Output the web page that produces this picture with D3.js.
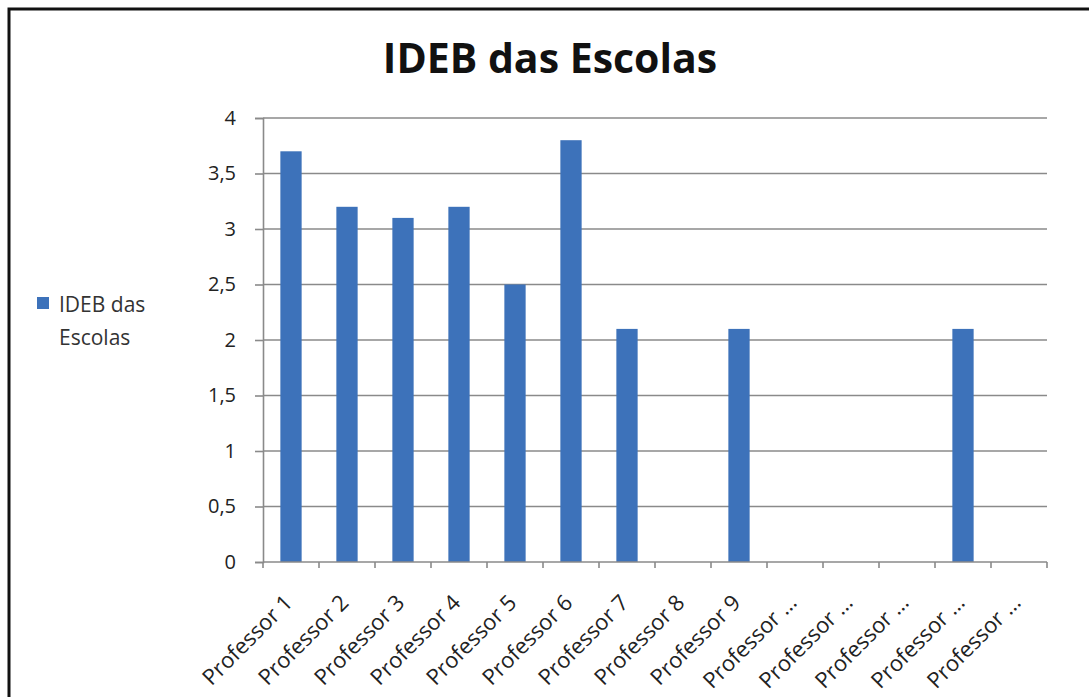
<!DOCTYPE html>
<html>
<head>
<meta charset="utf-8">
<script src="https://cdn.jsdelivr.net/npm/d3@7"></script>
<style>
  html, body { margin: 0; padding: 0; background: #fff; }
  svg { display: block; }
</style>
</head>
<body>
<svg id="chart" width="1089" height="697"></svg>
<script>
// Chart data
const categories = [
  "Professor 1", "Professor 2", "Professor 3", "Professor 4", "Professor 5",
  "Professor 6", "Professor 7", "Professor 8", "Professor 9", "Professor …",
  "Professor …", "Professor …", "Professor …", "Professor …"
];
const ideb = [3.7, 3.2, 3.1, 3.2, 2.5, 3.8, 2.1, 0, 2.1, 0, 0, 0, 2.1, 0];
const yTicks = [0, 0.5, 1, 1.5, 2, 2.5, 3, 3.5, 4];
const chartTitle = "IDEB das Escolas";
const seriesName = ["IDEB das", "Escolas"];

const W = 1089, H = 697;
const margin = { left: 263, right: 1047, top: 118, bottom: 562 };
const font = "'Open Sans', 'DejaVu Sans', sans-serif";
const barColor = "#3d72ba";
const gridColor = "#8a8a8a";

const svg = d3.select("#chart");

// Outer frame (only left and top edges fall inside the view)
svg.append("rect")
  .attr("x", 9).attr("y", 9)
  .attr("width", W + 20).attr("height", H + 20)
  .attr("fill", "#fff")
  .attr("stroke", "#111").attr("stroke-width", 3);

const x = d3.scaleBand()
  .domain(d3.range(categories.length))
  .range([margin.left, margin.right])
  .paddingInner(0.62).paddingOuter(0.31);

const y = d3.scaleLinear()
  .domain([0, 4])
  .range([margin.bottom, margin.top]);

// Horizontal gridlines
svg.append("g")
  .selectAll("line")
  .data(yTicks.filter(d => d > 0))
  .join("line")
  .attr("x1", margin.left).attr("x2", margin.right)
  .attr("y1", d => y(d)).attr("y2", d => y(d))
  .attr("stroke", gridColor).attr("stroke-width", 1.6);

// Y axis
const yAxis = d3.axisLeft(y)
  .tickValues(yTicks)
  .tickSize(8)
  .tickPadding(19)
  .tickFormat(d => d3.format("")(d).replace(".", ","));

const gy = svg.append("g")
  .attr("transform", `translate(${margin.left},0)`)
  .call(yAxis);
gy.select(".domain").attr("stroke", gridColor).attr("stroke-width", 1.6);
gy.selectAll(".tick line").attr("stroke", gridColor).attr("stroke-width", 1.6);
gy.selectAll(".tick text")
  .attr("font-family", font).attr("font-size", 20)
  .attr("fill", "#222");

// Bars
svg.append("g")
  .selectAll("rect")
  .data(ideb)
  .join("rect")
  .attr("x", (d, i) => x(i))
  .attr("y", d => y(d))
  .attr("width", x.bandwidth())
  .attr("height", d => y(0) - y(d))
  .attr("fill", barColor);

// X axis: line plus ticks at category boundaries
const step = x.step();
const gx = svg.append("g");
gx.append("line")
  .attr("x1", margin.left).attr("x2", margin.right)
  .attr("y1", y(0)).attr("y2", y(0))
  .attr("stroke", gridColor).attr("stroke-width", 1.6);
gx.selectAll("line.tk")
  .data(d3.range(categories.length + 1))
  .join("line")
  .attr("class", "tk")
  .attr("x1", i => margin.left + i * step)
  .attr("x2", i => margin.left + i * step)
  .attr("y1", y(0)).attr("y2", y(0) + 6)
  .attr("stroke", gridColor).attr("stroke-width", 1.6);

// Rotated category labels
gx.selectAll("text")
  .data(categories)
  .join("text")
  .attr("transform", (d, i) => `translate(${x(i) + x.bandwidth() / 2 + 3},${y(0) + 42}) rotate(-45)`)
  .attr("text-anchor", "end")
  .attr("font-family", font).attr("font-size", 22)
  .attr("fill", "#222")
  .text(d => d);

// Title
svg.append("text")
  .attr("x", 550).attr("y", 73)
  .attr("text-anchor", "middle")
  .attr("font-family", font).attr("font-size", 41).attr("font-weight", "bold")
  .attr("fill", "#111")
  .text(chartTitle);

// Legend
const lg = svg.append("g");
lg.append("rect")
  .attr("x", 37).attr("y", 297).attr("width", 12).attr("height", 12)
  .attr("fill", barColor);
lg.selectAll("text")
  .data(seriesName)
  .join("text")
  .attr("x", 59)
  .attr("y", (d, i) => 312 + i * 33)
  .attr("font-family", font).attr("font-size", 21)
  .attr("fill", "#333")
  .text(d => d);
</script>
</body>
</html>
